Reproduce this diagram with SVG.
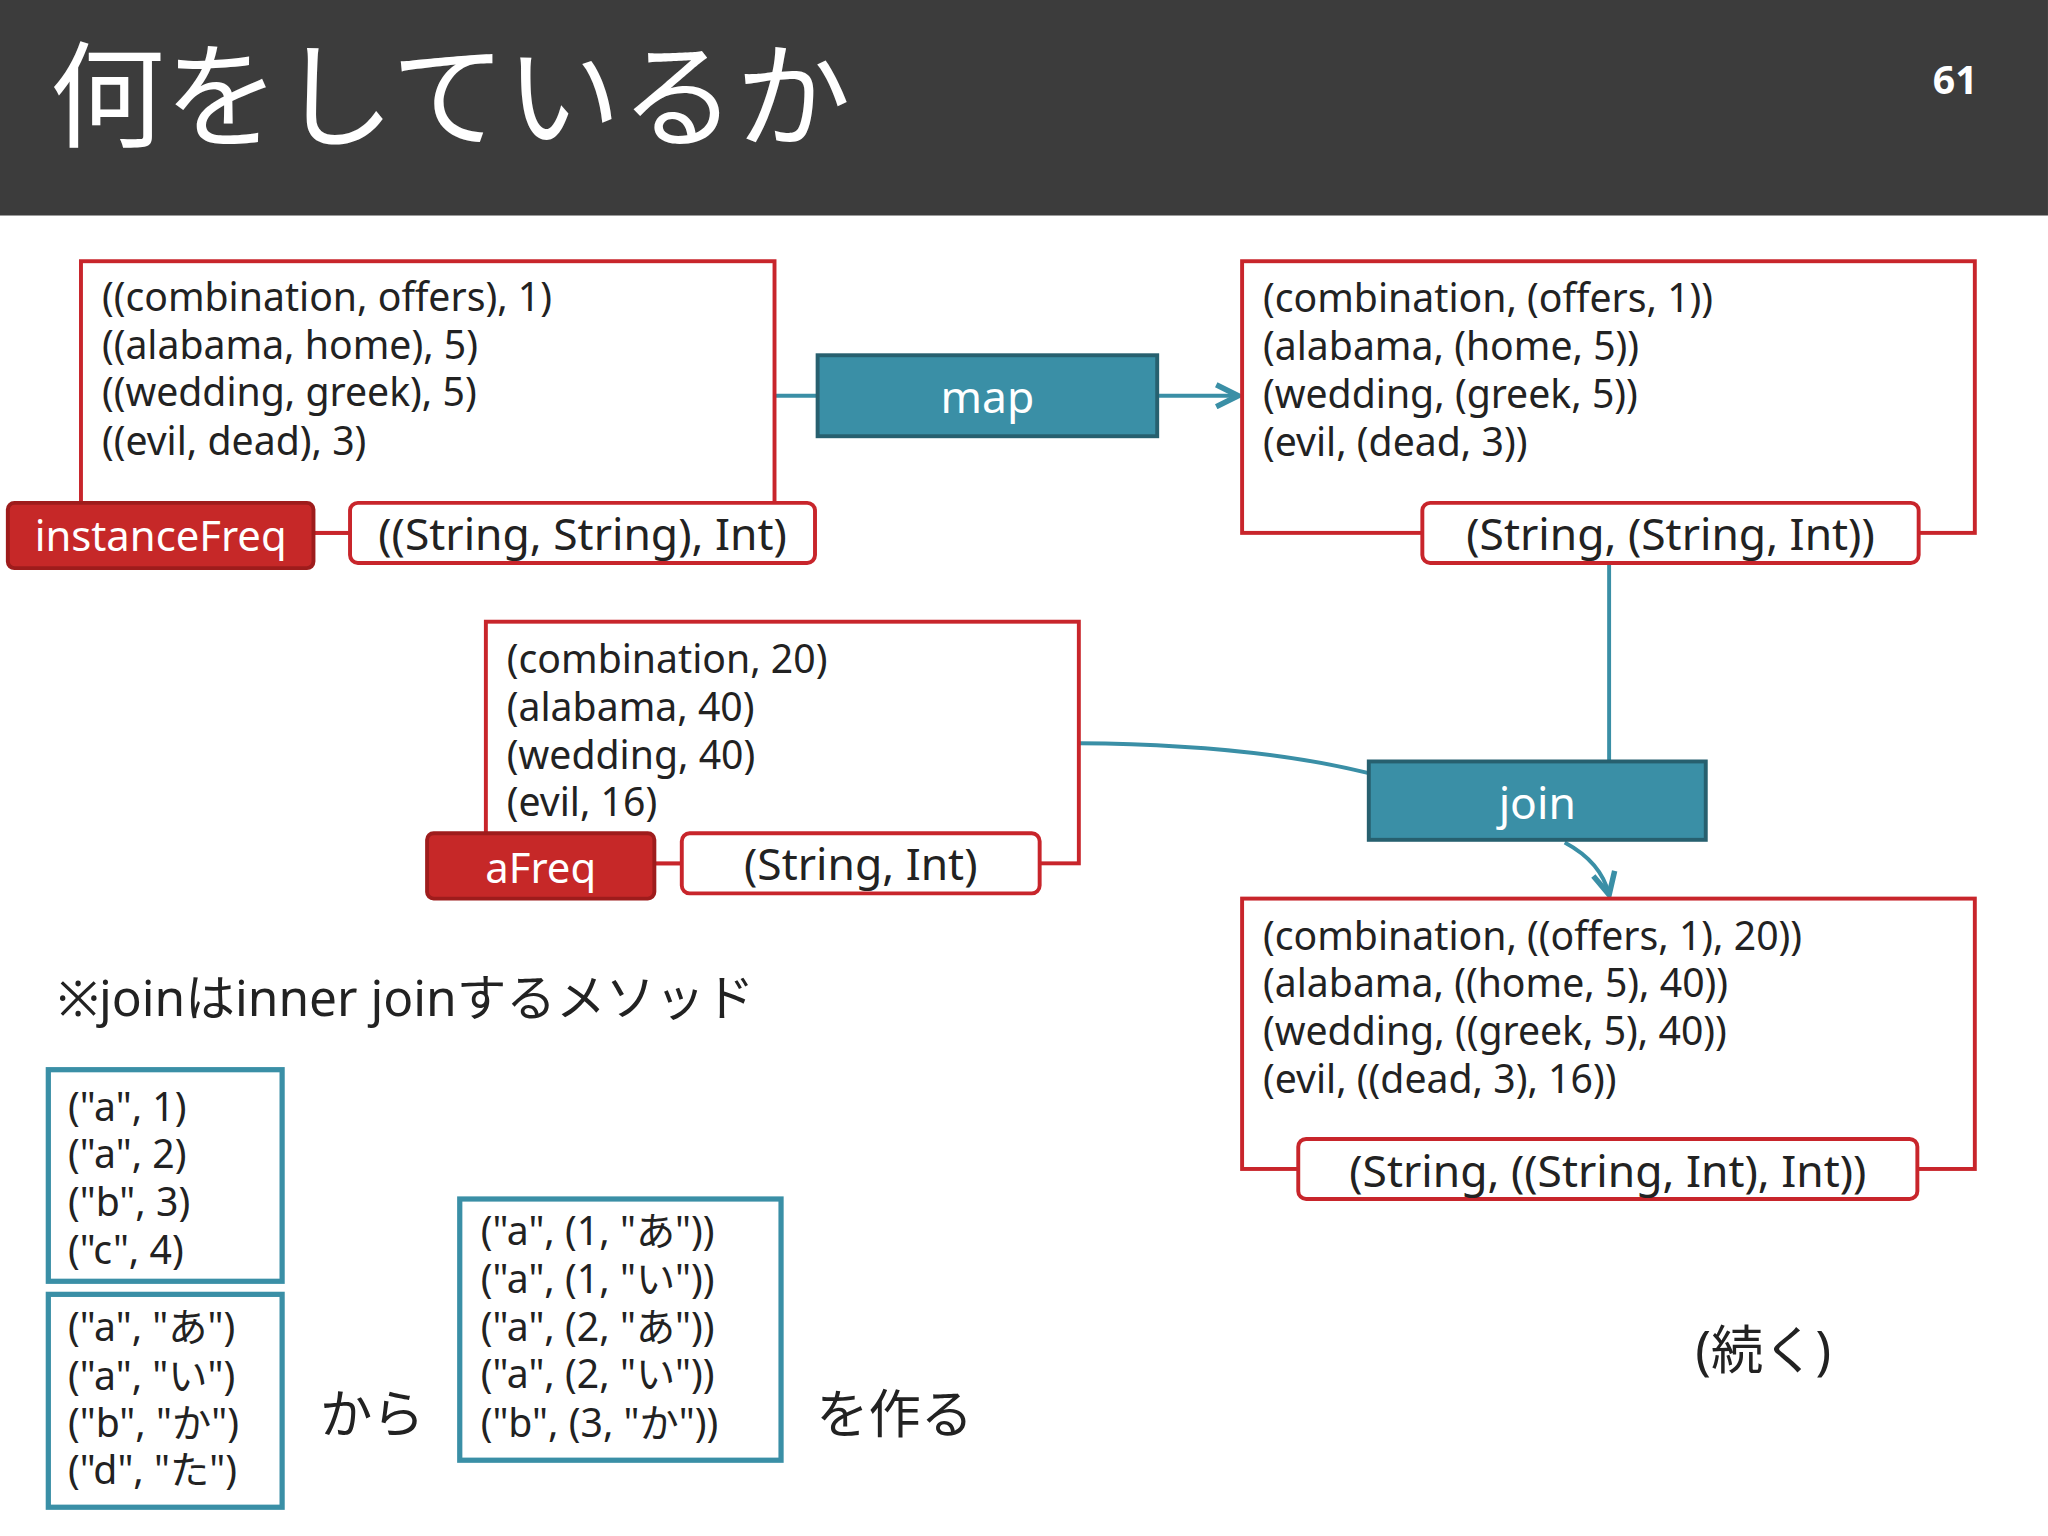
<svg xmlns="http://www.w3.org/2000/svg" width="2048" height="1536" viewBox="0 0 2048 1536">
<defs>
<style>
text{font-family:"Noto Sans","Noto Sans CJK JP",sans-serif;fill:#222}
.rb{fill:#fff;stroke:#c8252b;stroke-width:3}
.lab{fill:#c62828;stroke:#9e1c1c;stroke-width:3}
.tb{fill:#fff;stroke:#c8252b;stroke-width:3}
.op{fill:#3a8fa6;stroke:#27606f;stroke-width:3}
.tl{fill:#fff;stroke:#3a8fa6;stroke-width:4}
.c{fill:none;stroke:#3a8fa6;stroke-width:3}
.d{font-size:30px}
.w{fill:#fff}
.m{text-anchor:middle}
</style>
<marker id="ah" viewBox="0 0 10 10" refX="9" refY="5" markerWidth="7" markerHeight="7" orient="auto"><path d="M1,1 L9,5 L1,9" fill="none" stroke="#3a8fa6" stroke-width="2"/></marker>
</defs>
<rect width="2048" height="1536" fill="#fff"/>
<g transform="scale(1.3061)">
<g id="header"><rect x="0" y="0" width="1568" height="165" fill="#3c3c3c"/>
<text x="38" y="106" font-size="88" class="w">何をしているか</text>
<text x="1497" y="72" font-size="30" font-weight="bold" class="w m">61</text></g>
<g id="connectors">
<path class="c" d="M593,303 H626"/>
<path class="c" d="M886,303 H948" marker-end="url(#ah)"/>
<path class="c" d="M1232,431 V583"/>
<path class="c" d="M826,569 Q960,570 1048,592"/>
<path class="c" d="M1198,645 Q1226,660 1232,685" marker-end="url(#ah)"/>
<path d="M240,408 H268 M501,661 H522" stroke="#c8252b" stroke-width="3"/>
</g>
<g id="instanceFreq">
<rect class="rb" x="62" y="200" width="531" height="208"/>
<text class="d" x="78" y="238">((combination, offers), 1)</text>
<text class="d" x="78" y="275">((alabama, home), 5)</text>
<text class="d" x="78" y="311">((wedding, greek), 5)</text>
<text class="d" x="78" y="348">((evil, dead), 3)</text>
<rect class="lab" x="6" y="385" width="234" height="50" rx="5"/>
<text x="123" y="422" font-size="32" class="w m">instanceFreq</text>
<rect class="tb" x="268" y="385" width="356" height="46" rx="6"/>
<text x="446" y="421" font-size="34" class="m">((String, String), Int)</text>
</g>
<g id="map"><rect class="op" x="626" y="272" width="260" height="62"/>
<text x="756" y="316" font-size="34" class="w m">map</text></g>
<g id="mapped">
<rect class="rb" x="951" y="200" width="561" height="208"/>
<text class="d" x="967" y="239">(combination, (offers, 1))</text>
<text class="d" x="967" y="276">(alabama, (home, 5))</text>
<text class="d" x="967" y="312">(wedding, (greek, 5))</text>
<text class="d" x="967" y="349">(evil, (dead, 3))</text>
<rect class="tb" x="1089" y="385" width="380" height="46" rx="6"/>
<text x="1279" y="421" font-size="34" class="m">(String, (String, Int))</text>
</g>
<g id="aFreq">
<rect class="rb" x="372" y="476" width="454" height="185"/>
<text class="d" x="388" y="515">(combination, 20)</text>
<text class="d" x="388" y="552">(alabama, 40)</text>
<text class="d" x="388" y="589">(wedding, 40)</text>
<text class="d" x="388" y="625">(evil, 16)</text>
<rect class="lab" x="327" y="638" width="174" height="50" rx="5"/>
<text x="414" y="676" font-size="32" class="w m">aFreq</text>
<rect class="tb" x="522" y="638" width="274" height="46" rx="6"/>
<text x="659" y="674" font-size="34" class="m">(String, Int)</text>
</g>
<g id="join"><rect class="op" x="1048" y="583" width="258" height="60"/>
<text x="1177" y="627" font-size="34" class="w m">join</text></g>
<g id="joined">
<rect class="rb" x="951" y="688" width="561" height="207"/>
<text class="d" x="967" y="727">(combination, ((offers, 1), 20))</text>
<text class="d" x="967" y="763">(alabama, ((home, 5), 40))</text>
<text class="d" x="967" y="800">(wedding, ((greek, 5), 40))</text>
<text class="d" x="967" y="837">(evil, ((dead, 3), 16))</text>
<rect class="tb" x="994" y="872" width="474" height="46" rx="6"/>
<text x="1231" y="909" font-size="34" class="m">(String, ((String, Int), Int))</text>
</g>
<g id="note"><text x="44" y="778" font-size="38">※joinはinner joinするメソッド</text></g>
<g id="ex1"><rect class="tl" x="37" y="819" width="179" height="162"/>
<text class="d" x="52" y="858">("a", 1)</text><text class="d" x="52" y="894">("a", 2)</text>
<text class="d" x="52" y="931">("b", 3)</text><text class="d" x="52" y="968">("c", 4)</text></g>
<g id="ex2"><rect class="tl" x="37" y="991" width="179" height="163"/>
<text class="d" x="52" y="1027">("a", "あ")</text><text class="d" x="52" y="1064">("a", "い")</text>
<text class="d" x="52" y="1100">("b", "か")</text><text class="d" x="52" y="1136">("d", "た")</text></g>
<text x="245" y="1097" font-size="40">から</text>
<g id="ex3"><rect class="tl" x="352" y="918" width="246" height="200"/>
<text class="d" x="368" y="953">("a", (1, "あ"))</text><text class="d" x="368" y="990">("a", (1, "い"))</text>
<text class="d" x="368" y="1027">("a", (2, "あ"))</text><text class="d" x="368" y="1063">("a", (2, "い"))</text>
<text class="d" x="368" y="1100">("b", (3, "か"))</text></g>
<text x="625" y="1097" font-size="40">を作る</text>
<text x="1298" y="1048" font-size="40">(続く)</text>
</g>
</svg>
